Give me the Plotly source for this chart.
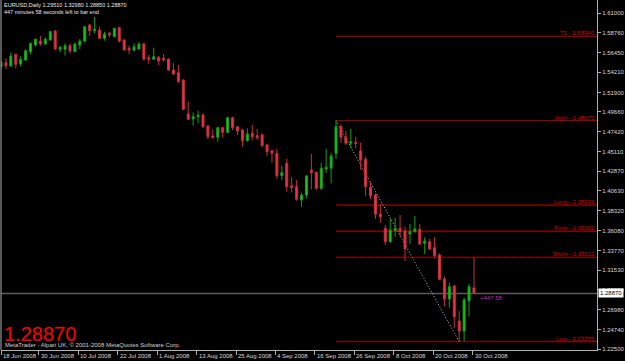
import plotly.graph_objects as go
import pandas as pd

# ---------------- data ----------------
dates = pd.bdate_range("2008-06-18", "2008-10-30")  # 97 daily bars

opens = [1.5485, 1.5531, 1.5493, 1.5627, 1.5516, 1.5561, 1.5657, 1.5733, 1.5779, 1.5745,
         1.5791, 1.5894, 1.5684, 1.5684, 1.5725, 1.5657, 1.5733, 1.5779, 1.5963, 1.5897,
         1.5905, 1.5810, 1.5867, 1.5828, 1.5932, 1.5791, 1.5696, 1.5676, 1.5688, 1.5745,
         1.5588, 1.5570, 1.5592, 1.5581, 1.5570, 1.5447, 1.5416, 1.5332, 1.4943, 1.4885,
         1.4912, 1.4931, 1.4805, 1.4691, 1.4676, 1.4786, 1.4733, 1.4900, 1.4797, 1.4759,
         1.4637, 1.4722, 1.4694, 1.4702, 1.4587, 1.4522, 1.4492, 1.4236, 1.4378, 1.4121,
         1.4110, 1.3957, 1.4015, 1.4301, 1.4275, 1.4091, 1.4312, 1.4321, 1.4492, 1.4797,
         1.4676, 1.4607, 1.4618, 1.4519, 1.4424, 1.4103, 1.4015, 1.3797, 1.3633, 1.3479,
         1.3605, 1.3633, 1.3602, 1.3568, 1.3594, 1.3621, 1.3461, 1.3479, 1.3411, 1.3327,
         1.3052, 1.2823, 1.2972, 1.2571, 1.2456, 1.2803, 1.2951]
highs = [1.5544, 1.5581, 1.5650, 1.5630, 1.5607, 1.5684, 1.5760, 1.5806, 1.5837, 1.5822,
         1.5894, 1.5905, 1.5725, 1.5753, 1.5745, 1.5760, 1.5802, 1.5951, 1.5974, 1.6054,
         1.5943, 1.5886, 1.5886, 1.5928, 1.5943, 1.5799, 1.5722, 1.5753, 1.5764, 1.5760,
         1.5619, 1.5702, 1.5607, 1.5630, 1.5581, 1.5524, 1.5504, 1.5340, 1.5084, 1.4962,
         1.4981, 1.4951, 1.4817, 1.4767, 1.4797, 1.4797, 1.4912, 1.4912, 1.4805, 1.4772,
         1.4779, 1.4817, 1.4771, 1.4722, 1.4599, 1.4530, 1.4542, 1.4350, 1.4427, 1.4221,
         1.4186, 1.4041, 1.4244, 1.4484, 1.4282, 1.4385, 1.4542, 1.4499, 1.4867, 1.4825,
         1.4748, 1.4771, 1.4683, 1.4614, 1.4450, 1.4160, 1.4034, 1.3908, 1.3671, 1.3748,
         1.3754, 1.3785, 1.3651, 1.3682, 1.3774, 1.3682, 1.3530, 1.3510, 1.3530, 1.3346,
         1.3078, 1.3010, 1.2983, 1.2685, 1.2838, 1.2995, 1.3298]
lows = [1.5466, 1.5458, 1.5485, 1.5466, 1.5485, 1.5553, 1.5627, 1.5714, 1.5725, 1.5733,
        1.5783, 1.5676, 1.5650, 1.5611, 1.5638, 1.5650, 1.5684, 1.5760, 1.5837, 1.5867,
        1.5802, 1.5783, 1.5822, 1.5822, 1.5760, 1.5668, 1.5627, 1.5657, 1.5676, 1.5553,
        1.5516, 1.5561, 1.5504, 1.5542, 1.5435, 1.5390, 1.5301, 1.4989, 1.4874, 1.4809,
        1.4836, 1.4779, 1.4653, 1.4664, 1.4625, 1.4671, 1.4722, 1.4759, 1.4702, 1.4568,
        1.4625, 1.4645, 1.4645, 1.4568, 1.4461, 1.4385, 1.4198, 1.4186, 1.4052, 1.4045,
        1.3949, 1.3880, 1.3977, 1.4080, 1.4072, 1.4072, 1.4270, 1.4149, 1.4427, 1.4614,
        1.4587, 1.4550, 1.4550, 1.4301, 1.4006, 1.3969, 1.3740, 1.3697, 1.3442, 1.3468,
        1.3537, 1.3537, 1.3258, 1.3453, 1.3585, 1.3442, 1.3338, 1.3384, 1.3289, 1.3041,
        1.2735, 1.2723, 1.2487, 1.23335, 1.2340, 1.2620, 1.2885]
closes = [1.5535, 1.5496, 1.5607, 1.5512, 1.5570, 1.5668, 1.5753, 1.5799, 1.5745, 1.5799,
          1.5886, 1.5688, 1.5707, 1.5725, 1.5665, 1.5745, 1.5779, 1.5943, 1.5897, 1.5913,
          1.5810, 1.5859, 1.5848, 1.5925, 1.5779, 1.5676, 1.5676, 1.5714, 1.5745, 1.5573,
          1.5570, 1.5599, 1.5550, 1.5561, 1.5447, 1.5401, 1.5313, 1.4997, 1.4882, 1.4912,
          1.4931, 1.4797, 1.4683, 1.4671, 1.4786, 1.4733, 1.4900, 1.4786, 1.4748, 1.4637,
          1.4714, 1.4683, 1.4671, 1.4579, 1.4511, 1.4492, 1.4236, 1.4270, 1.4110, 1.4098,
          1.3965, 1.4015, 1.4232, 1.4270, 1.4091, 1.4321, 1.4332, 1.4461, 1.4797, 1.4676,
          1.4607, 1.4625, 1.4607, 1.4416, 1.4110, 1.4006, 1.3793, 1.3766, 1.3479, 1.3613,
          1.3633, 1.3594, 1.3396, 1.3594, 1.3625, 1.3453, 1.3487, 1.3396, 1.3319, 1.3049,
          1.2823, 1.2964, 1.2620, 1.2456, 1.2811, 1.2964, 1.2887]

level_names = ["T1", "High", "Long", "Pivot", "Short", "Low"]
level_values = [1.58340, 1.48670, 1.38992, 1.36002, 1.33013, 1.23335]
level_dash = ["solid", "1px,1px", "solid", "solid", "1px,1px", "1px,1px"]
level_start_bar = 68
swing_high_bar, swing_low_bar = 68, 93

ytick_vals = [1.61000, 1.58760, 1.56450, 1.54210, 1.51900, 1.49660, 1.47420, 1.45110,
              1.42870, 1.40630, 1.38320, 1.36080, 1.33770, 1.31530, 1.29290, 1.26980,
              1.24740, 1.22500]
xtick_bars = [0, 8, 16, 24, 32, 40, 48, 56, 64, 72, 80, 88, 96]
xtick_labels = ["18 Jun 2008", "30 Jun 2008", "10 Jul 2008", "22 Jul 2008", "1 Aug 2008",
                "13 Aug 2008", "25 Aug 2008", "4 Sep 2008", "16 Sep 2008", "26 Sep 2008",
                "8 Oct 2008", "20 Oct 2008", "30 Oct 2008"]

symbol_title = "EURUSD,Daily 1.29510 1.32980 1.28850 1.28870"
timer_text = "447 minutes 58 seconds left to bar end"
last_price = 1.28870
copyright_text = "MetaTrader - Alpari UK, \u00a9 2001-2008 MetaQuotes Software Corp."

# ---------------- figure ----------------
FONT = "Liberation Sans, Arial, sans-serif"
bars = list(range(len(opens)))
X0, X1 = 0.0, 120.97
Y0, Y1 = 1.22385, 1.6249

fig = go.Figure()
fig.add_trace(go.Candlestick(
    x=bars, open=opens, high=highs, low=lows, close=closes,
    increasing=dict(line=dict(color="#12a012", width=1), fillcolor="#22c822"),
    decreasing=dict(line=dict(color="#c8303c", width=1), fillcolor="#ee3344"),
    whiskerwidth=0, showlegend=False, hoverinfo="skip",
))

shapes = []
# current price line
shapes.append(dict(type="line", xref="x", yref="y", x0=X0, x1=X1, y0=last_price, y1=last_price,
                   line=dict(color="#5a5a5a", width=1.5), layer="below"))
# level lines
for v, d in zip(level_values, level_dash):
    shapes.append(dict(type="line", xref="x", yref="y", x0=level_start_bar, x1=X1, y0=v, y1=v,
                       line=dict(color="#c80000", width=1, dash=d), layer="below"))
# swing dotted line
shapes.append(dict(type="line", xref="x", yref="y",
                   x0=swing_high_bar, y0=highs[swing_high_bar],
                   x1=swing_low_bar, y1=lows[swing_low_bar],
                   line=dict(color="#c8c8c8", width=1, dash="1px,2px"), layer="below"))
# left frame line
shapes.append(dict(type="line", xref="paper", yref="paper", x0=0, x1=0, y0=0, y1=1,
                   line=dict(color="#b0b0b0", width=1)))

ann = []
for n, v in zip(level_names, level_values):
    ann.append(dict(x=X1, y=v, xref="x", yref="y", text=f"{n} - {v:.5f}", showarrow=False,
                    xanchor="right", yanchor="bottom", yshift=-2, xshift=0,
                    font=dict(family=FONT, size=6, color="#d80000")))
for b, t in zip(xtick_bars, xtick_labels):
    ann.append(dict(x=max(b - 0.3, X0), y=0, xref="x", yref="paper", text=t, showarrow=False,
                    xanchor="left", yanchor="top", xshift=0, yshift=-1,
                    font=dict(family=FONT, size=6, color="#d8d8d8")))
ann.append(dict(x=0, y=1, xref="paper", yref="paper", text=symbol_title, showarrow=False,
                xanchor="left", yanchor="top", xshift=1, yshift=0,
                font=dict(family=FONT, size=5.5, color="#e8e8e8")))
ann.append(dict(x=0, y=1, xref="paper", yref="paper", text=timer_text, showarrow=False,
                xanchor="left", yanchor="top", xshift=1, yshift=-7,
                font=dict(family=FONT, size=5.5, color="#e8e8e8")))
ann.append(dict(x=0, y=0, xref="paper", yref="paper", text=f"{last_price:.5f}", showarrow=False,
                xanchor="left", yanchor="bottom", xshift=1, yshift=3,
                font=dict(family=FONT, size=20, color="#ff0000")))
ann.append(dict(x=0, y=0, xref="paper", yref="paper", text=copyright_text, showarrow=False,
                xanchor="left", yanchor="middle", xshift=2, yshift=5,
                font=dict(family=FONT, size=6, color="#d0d0d0")))
ann.append(dict(x=bars[-1], y=last_price, xref="x", yref="y", text="+447 58", showarrow=False,
                xanchor="left", yanchor="top", xshift=4, yshift=0,
                font=dict(family=FONT, size=6, color="#c020c0")))
ann.append(dict(x=1, y=last_price, xref="paper", yref="y", text=f"{last_price:.5f}", showarrow=False,
                xanchor="left", yanchor="middle", xshift=1, bgcolor="#ffffff", borderpad=1,
                font=dict(family=FONT, size=6, color="#000000")))

fig.update_layout(
    width=625, height=361,
    margin=dict(l=1, r=24, t=0, b=11),
    paper_bgcolor="#000000", plot_bgcolor="#000000",
    boxgap=0.42,
    shapes=shapes, annotations=ann,
    showlegend=False,
    xaxis=dict(range=[X0, X1], showgrid=False, zeroline=False, rangeslider=dict(visible=False),
               showline=True, linecolor="#b0b0b0", linewidth=1,
               tickvals=[max(b - 0.3, X0) for b in xtick_bars], ticktext=[""] * len(xtick_bars),
               ticks="outside", ticklen=4, tickcolor="#b0b0b0", showticklabels=False,
               fixedrange=True),
    yaxis=dict(range=[Y0, Y1], side="right", showgrid=False, zeroline=False,
               showline=True, linecolor="#b0b0b0", linewidth=1, mirror=False,
               tickvals=ytick_vals, ticktext=[f"{v:.5f}" for v in ytick_vals],
               ticks="outside", ticklen=3, tickcolor="#b0b0b0",
               tickfont=dict(family=FONT, size=6, color="#d8d8d8"), fixedrange=True),
)

fig.write_html("out.html", config={"displayModeBar": False, "staticPlot": True})
